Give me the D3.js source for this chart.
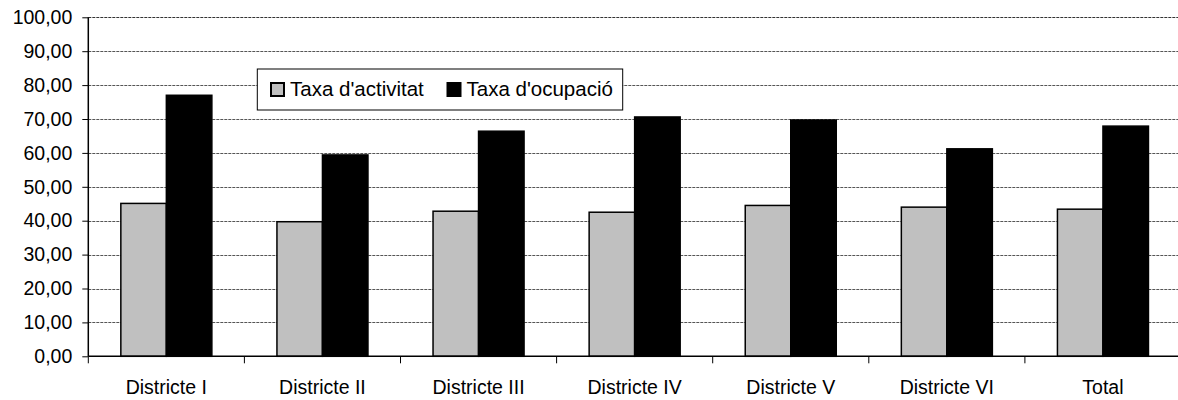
<!DOCTYPE html>
<html>
<head>
<meta charset="utf-8">
<script src="https://cdn.jsdelivr.net/npm/d3@7"></script>
<style>
  body { margin: 0; background: #fff; }
  svg { display: block; font-family: "Liberation Sans", Arial, sans-serif; }
</style>
</head>
<body>
<svg id="chart" width="1178" height="400"></svg>
<script>
// Categories and the two series (rates in %)
const districts = ["Districte I", "Districte II", "Districte III", "Districte IV", "Districte V", "Districte VI", "Total"]
const seriesNames = ["Taxa d'activitat", "Taxa d'ocupació"]
const taxaActivitat = [45.1, 39.7, 42.8, 42.5, 44.5, 44.0, 43.4]
const taxaOcupacio = [77.0, 59.4, 66.4, 70.6, 69.7, 61.2, 67.9]
const yTicks = [0, 10, 20, 30, 40, 50, 60, 70, 80, 90, 100]
const seriesColors = ["#c0c0c0", "#000000"]

const svg = d3.select("#chart")

// Plot area (right edge runs a little past the picture, like the original)
const plotLeft = 88.3, plotRight = 1181, plotTop = 17.3, plotBottom = 356.3

const x = d3.scaleBand().domain(districts).range([plotLeft, plotRight]).padding(0)
const xInner = d3.scaleBand().domain(seriesNames).range([0, x.bandwidth()]).paddingInner(0).paddingOuter(0.715)
const y = d3.scaleLinear().domain([0, 100]).range([plotBottom, plotTop])

// Comma as decimal separator
const fmt = d => d3.format(".2f")(d).replace(".", ",")

// Dashed horizontal gridlines
svg.append("g")
  .selectAll("line")
  .data(yTicks.filter(d => d > 0))
  .enter()
  .append("line")
  .attr("x1", plotLeft).attr("x2", plotRight)
  .attr("y1", d => Math.round(y(d)) + 0.5).attr("y2", d => Math.round(y(d)) + 0.5)
  .style("stroke", d => d == 100 ? "#333" : "#555")
  .style("stroke-width", 1)
  .style("stroke-dasharray", "3,1")

// Bars: one group per district, two bars inside
const rows = districts.map((d, i) => ({ name: d, values: [taxaActivitat[i], taxaOcupacio[i]] }))

svg.append("g")
  .selectAll("g")
  .data(rows)
  .enter()
  .append("g")
  .attr("transform", d => `translate(${x(d.name)},0)`)
  .selectAll("rect")
  .data(d => d.values.map((v, j) => ({ key: seriesNames[j], value: v, j: j })))
  .enter()
  .append("rect")
  .attr("x", d => xInner(d.key))
  .attr("y", d => y(d.value))
  .attr("width", xInner.bandwidth())
  .attr("height", d => y(0) - y(d.value))
  .style("fill", d => seriesColors[d.j])
  .style("stroke", "#000")
  .style("stroke-width", 1.5)

// Y axis
const yAxis = d3.axisLeft(y).tickValues(yTicks).tickFormat(fmt).tickSize(6).tickPadding(10)
const gy = svg.append("g").attr("transform", `translate(${plotLeft},0)`).call(yAxis)
gy.select(".domain").attr("d", `M0,${plotTop}V${plotBottom}`).style("stroke-width", 1.5)
gy.selectAll(".tick line").style("stroke-width", 1)
gy.selectAll("text").style("font-size", "19.5px").style("fill", "#000")

// X axis: tick marks sit on the category boundaries
svg.append("line")
  .attr("x1", plotLeft).attr("x2", plotRight)
  .attr("y1", plotBottom).attr("y2", plotBottom)
  .style("stroke", "#000").style("stroke-width", 1.5)

svg.append("g")
  .selectAll("line")
  .data(districts)
  .enter()
  .append("line")
  .attr("x1", d => x(d)).attr("x2", d => x(d))
  .attr("y1", plotBottom).attr("y2", plotBottom + 7)
  .style("stroke", "#000").style("stroke-width", 1)

svg.append("g")
  .selectAll("text")
  .data(districts)
  .enter()
  .append("text")
  .attr("x", d => x(d) + x.bandwidth() / 2)
  .attr("y", 393.5)
  .attr("text-anchor", "middle")
  .style("font-size", "19.5px")
  .text(d => d)

// Legend box
const legend = svg.append("g")
legend.append("rect")
  .attr("x", 257.3).attr("y", 69).attr("width", 365.4).attr("height", 41)
  .style("fill", "#fff").style("stroke", "#000").style("stroke-width", 1)

const legendX = [271, 447.5]
seriesNames.forEach((s, i) => {
  legend.append("rect")
    .attr("x", legendX[i]).attr("y", 83)
    .attr("width", 13).attr("height", 13)
    .style("fill", seriesColors[i]).style("stroke", "#000").style("stroke-width", 2)
  legend.append("text")
    .attr("x", legendX[i] + 19).attr("y", 96)
    .style("font-size", "20.5px")
    .text(s)
})
</script>
</body>
</html>
